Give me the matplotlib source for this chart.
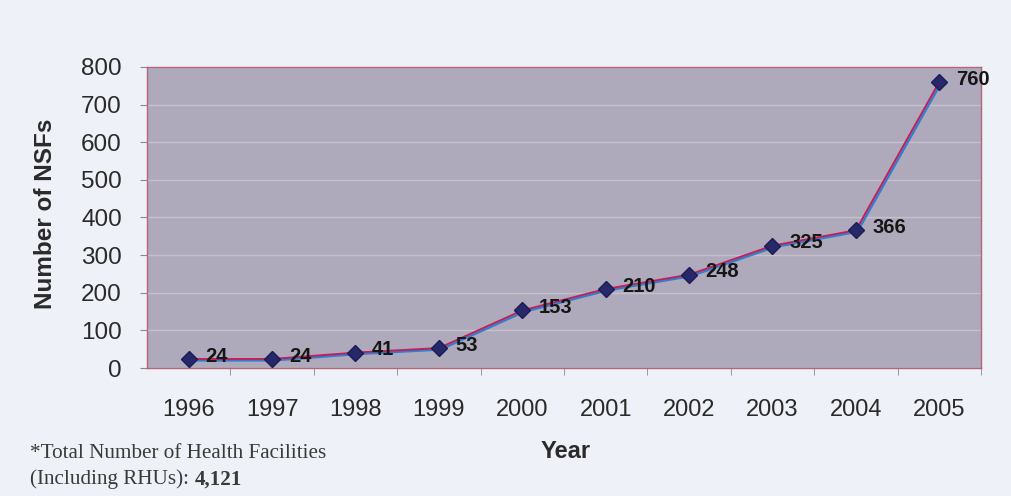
import matplotlib
matplotlib.use("Agg")
import matplotlib.pyplot as plt
import matplotlib.transforms as mtransforms
from matplotlib.ticker import FixedLocator

years = ["1996", "1997", "1998", "1999", "2000", "2001", "2002", "2003", "2004", "2005"]
nsf_counts = [24, 24, 41, 53, 153, 210, 248, 325, 366, 760]
y_ticks = [0, 100, 200, 300, 400, 500, 600, 700, 800]

plt.rcParams['font.family'] = ['Liberation Sans', 'DejaVu Sans']

fig = plt.figure(figsize=(10.11, 4.96), dpi=100)
fig.patch.set_facecolor('#eef1f7')
ax = fig.add_axes([0.1454, 0.258, 0.8249, 0.607])
ax.set_facecolor('#aeaabb')

x = list(range(len(years)))
# misregistered print look: blue line slightly offset beneath the red one
off = mtransforms.offset_copy(ax.transData, fig=fig, x=1.5, y=-1.5, units='dots')
ax.plot(x, nsf_counts, color='#2f7fd0', lw=1.6, transform=off, zorder=3)
ax.plot(x, nsf_counts, color='#c0205a', lw=1.4, zorder=4)
ax.plot(x, nsf_counts, linestyle='none', marker='D', markersize=8.5,
        color='#27286a', markeredgecolor='#1c1c55', zorder=5)

for xi, v in zip(x, nsf_counts):
    ax.annotate(str(v), (xi, v), xytext=(12, 2), textcoords='offset points',
                ha='left', va='center', fontsize=14.5, fontweight='bold',
                color='#161616', zorder=6)

ax.set_xlim(-0.5, len(years) - 0.5)
ax.set_ylim(0, 800)
ax.set_yticks(y_ticks)
ax.yaxis.grid(True, color='#c4c0cf', lw=1.0)
ax.set_axisbelow(True)

ax.set_xticks(x)
ax.set_xticklabels(years)
ax.xaxis.set_minor_locator(FixedLocator([i + 0.5 for i in range(len(years))]))
ax.tick_params(axis='x', which='major', length=0, pad=22, labelsize=17, labelcolor='#2a2a2a')
ax.tick_params(axis='x', which='minor', length=5, color='#8a8a8a')
ax.tick_params(axis='y', which='major', length=5, pad=13, labelsize=17.5,
               labelcolor='#2a2a2a', color='#8a8a8a')

for s in ax.spines.values():
    s.set_color('#b5657a')
    s.set_linewidth(1.0)

ax.set_ylabel('Number of NSFs', fontsize=17.5, fontweight='bold', color='#2a2a2a')
ax.yaxis.set_label_coords(-0.108, 0.513)

fig.text(0.559, 0.089, 'Year', fontsize=17, fontweight='bold', color='#2a2a2a',
         ha='center', va='center')

serif = ['Liberation Serif', 'DejaVu Serif']
fig.text(0.030, 0.086, '*Total Number of Health Facilities', fontsize=15.2,
         family=serif, color='#3a3a3a', va='center', ha='left')
t2 = fig.text(0.030, 0.034, '(Including RHUs): ', fontsize=15.2,
              family=serif, color='#3a3a3a', va='center', ha='left')
fig.canvas.draw()
bb = t2.get_window_extent()
fig.text(bb.x1 / fig.bbox.width, 0.034, '4,121', fontsize=15.2, family=serif,
         fontweight='bold', color='#3a3a3a', va='center', ha='left')

fig.savefig('out.png', dpi=100, facecolor=fig.get_facecolor())
